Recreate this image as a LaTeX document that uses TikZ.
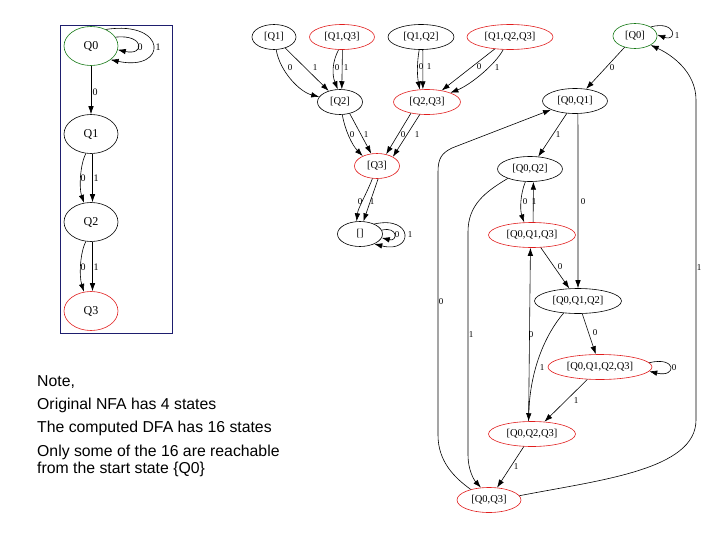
\documentclass[tikz,border=0pt]{standalone}
\usepackage{fontspec}
\setmainfont{Liberation Serif}
\newfontfamily\notefont{Liberation Sans}
\usetikzlibrary{shapes.geometric,arrows.meta}
\definecolor{accred}{RGB}{225,30,30}
\definecolor{startgreen}{RGB}{20,120,20}
\definecolor{boxblue}{RGB}{30,30,110}
\begin{document}
\begin{tikzpicture}[x=1pt,y=-1pt,
  st/.style={ellipse, draw, line width=0.6pt, inner sep=0pt, minimum height=25pt, font=\fontsize{10.5}{11}\selectfont},
  nst/.style={ellipse, draw, line width=0.6pt, inner sep=0pt, minimum width=54pt, minimum height=39pt, font=\fontsize{12}{13}\selectfont},
  acc/.style={draw=accred},
  ini/.style={draw=startgreen},
  e/.style={-{Latex[length=8pt,width=5.5pt]}, line width=0.6pt},
  lab/.style={font=\fontsize{9}{10}\selectfont, inner sep=0pt},
  nlab/.style={font=\fontsize{10}{11}\selectfont, inner sep=0pt},
  note/.style={anchor=base west, inner sep=0pt, font=\notefont\fontsize{15.8}{18}\selectfont}]
\useasboundingbox (0,0) rectangle (721,541);

% ---------- NFA ----------
\draw[boxblue, line width=0.8pt] (60,25) rectangle (172,333);
\node[nst, ini] (q0) at (91,46) {Q0};
\node[nst] (q1) at (91,134) {Q1};
\node[nst] (q2) at (91,222) {Q2};
\node[nst, acc] (q3) at (91,311) {Q3};

\draw[e] (q0.20) .. controls (145,34) and (145,56) .. (q0.-8) node[nlab] at (140,47) {0};
\draw[e] (q0.48) .. controls (168,20) and (168,72) .. (q0.-35) node[nlab] at (158,47) {1};
\draw[e] (q0) -- (q1) node[nlab] at (95,92) {0};
\draw[e] (q1.255) .. controls (80,165) and (79,188) .. (q2.110) node[nlab] at (83,178) {0};
\draw[e] ([xshift=1.5pt]q1.south) -- ([xshift=1.5pt]q2.north) node[nlab] at (96,178) {1};
\draw[e] (q2.255) .. controls (80,253) and (79,276) .. (q3.110) node[nlab] at (83,267) {0};
\draw[e] ([xshift=1.5pt]q2.south) -- ([xshift=1.5pt]q3.north) node[nlab] at (96,267) {1};

% ---------- DFA ----------
\node[st, minimum width=44pt] (s1) at (274,37) {[Q1]};
\node[st, acc, minimum width=65pt] (s13) at (342,37) {[Q1,Q3]};
\node[st, minimum width=66pt] (s12) at (421,37) {[Q1,Q2]};
\node[st, acc, minimum width=86pt] (s123) at (510,37) {[Q1,Q2,Q3]};
\node[st, ini, minimum width=44pt] (s0) at (635,36) {[Q0]};
\node[st, minimum width=45pt] (s2) at (340,102) {[Q2]};
\node[st, acc, minimum width=67pt] (s23) at (427,102) {[Q2,Q3]};
\node[st, minimum width=65pt] (s01) at (575,101) {[Q0,Q1]};
\node[st, acc, minimum width=45pt] (s3) at (377,166) {[Q3]};
\node[st, minimum width=45pt] (se) at (360,234) {[]};
\node[st, minimum width=65pt] (s02) at (530,169) {[Q0,Q2]};
\node[st, acc, minimum width=87pt] (s013) at (532,235) {[Q0,Q1,Q3]};
\node[st, minimum width=87pt] (s012) at (578,301) {[Q0,Q1,Q2]};
\node[st, acc, minimum width=104pt] (s0123) at (600,367) {[Q0,Q1,Q2,Q3]};
\node[st, acc, minimum width=87pt] (s023) at (532,434) {[Q0,Q2,Q3]};
\node[st, acc, minimum width=64pt] (s03) at (489,500) {[Q0,Q3]};

% upper-left group
\draw[e] (s1) .. controls (280,72) and (300,92) .. (s2) node[lab] at (290,68) {0};
\draw[e] (s1) -- (s2) node[lab] at (315,68) {1};
\draw[e] (s13.255) .. controls (332,62) and (332,75) .. (s2.100) node[lab] at (337,68) {0};
\draw[e] (s13.272) -- (s2.82) node[lab] at (346,68) {1};
\draw[e] (s12.262) .. controls (417,62) and (417,75) .. (s23.120) node[lab] at (421,67) {0};
\draw[e] (s12.278) -- (s23.108) node[lab] at (429,67) {1};
\draw[e] (s123) -- (s23) node[lab] at (479,67) {0};
\draw[e] (s123) .. controls (495,65) and (470,85) .. (s23) node[lab] at (497,68) {1};
\draw[e] (s2.280) .. controls (345,130) and (352,145) .. (s3.145) node[lab] at (352,135) {0};
\draw[e] (s2.310) -- (s3.115) node[lab] at (366,135) {1};
\draw[e] (s23.215) -- (s3.52) node[lab] at (403,135) {0};
\draw[e] (s23.240) -- (s3.30) node[lab] at (417,135) {1};
\draw[e] (s3.250) .. controls (366,195) and (358,208) .. (se.105) node[lab] at (360,202) {0};
\draw[e] (s3.275) -- (se.75) node[lab] at (372,202) {1};
\draw[e] (se.10) .. controls (398,226) and (398,242) .. (se.-10) node[lab] at (397,235) {0};
\draw[e] (se.35) .. controls (414,215) and (414,254) .. (se.-35) node[lab] at (410,235) {1};

% reachable part
\draw[e] (s0.30) .. controls (676,20) and (678,42) .. (s0.3) node[lab] at (677,36) {1};
\draw[e] (s0) -- (s01) node[lab] at (612,68) {0};
\draw[e] (s01) -- (s02) node[lab] at (558,135) {1};
\draw[e] (s01.283) -- (s012.north) node[lab] at (583,202) {0};
\draw[e] (s02.250) .. controls (520,195) and (520,210) .. (s013.122) node[lab] at (525,202) {0};
\draw[e] (s013.85) -- (s02.-75) node[lab] at (534,202) {1};
\draw[e] (s02.203) .. controls (485,192) and (468,205) .. (468,232) -- (468,455)
   .. controls (468,470) and (474,480) .. (s03.123) node[lab] at (471,335) {1};
\draw[e] (s013) -- (s012) node[lab] at (560,267) {0};
\draw[e] (s012) -- (s0123) node[lab] at (595,333) {0};
\draw[e] (s012.220) .. controls (545,335) and (530,370) .. (s023.105) node[lab] at (542,368) {1};
\draw[e] (s023.105) -- (s013.-97) node[lab] at (531,335) {0};
\draw[e] (s0123.5) .. controls (677,356) and (677,378) .. (s0123.-5) node[lab] at (674,368) {0};
\draw[e] (s0123) -- (s023) node[lab] at (576,401) {1};
\draw[e] (s023) -- (s03) node[lab] at (516,467) {1};
\draw[e] (s03.150) .. controls (455,478) and (438,462) .. (438,435) -- (438,172)
   .. controls (438,158) and (442,153) .. (452,148) -- (s01.200) node[lab] at (441,302) {0};
\draw[e] (s03.8) .. controls (600,480) and (696,470) .. (696,420) -- (696,100)
   .. controls (696,72) and (672,55) .. (s0.-30) node[lab] at (699,268) {1};

% ---------- note ----------
\node[note] (n1) at (37,386) {Note,};
\node[note] (n2) at (37,409) {Original NFA has 4 states};
\node[note] (n3) at (37,432) {The computed DFA has 16 states};
\node[note] (n4) at (37,456) {Only some of the 16 are reachable};
\node[note] (n5) at (37,473) {from the start state \{Q0\}};
\end{tikzpicture}
\end{document}
